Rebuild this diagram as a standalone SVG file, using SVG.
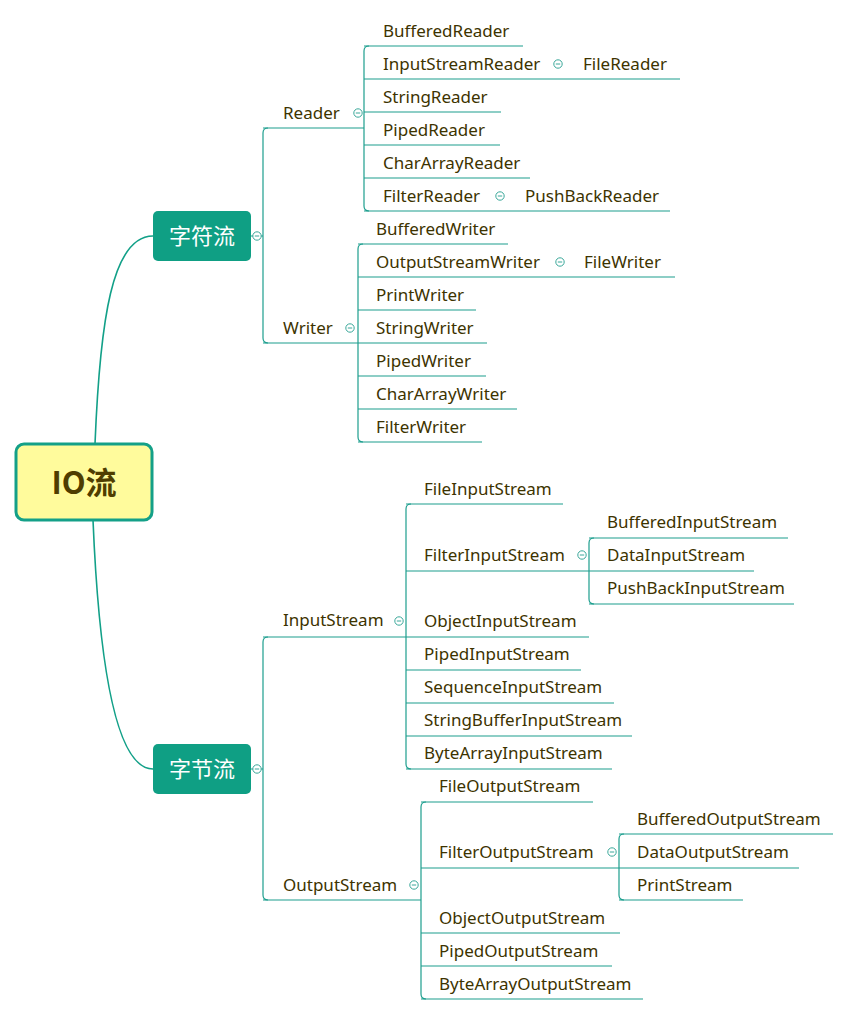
<svg xmlns="http://www.w3.org/2000/svg" width="849" height="1015" viewBox="0 0 849 1015">
<style>
.ln{fill:none;stroke:#1d9e8e;stroke-width:1.2}
.cv{fill:none;stroke:#12a088;stroke-width:1.6}
.t{font-family:"Noto Sans","Open Sans",sans-serif;font-size:17px;fill:#3d3300}
.cn{font-family:"Noto Sans CJK SC",sans-serif;font-size:22px;fill:#ffffff}
.l1{fill:#0f9f84}
.cc{fill:#ffffff;stroke:#3aa89a;stroke-width:1}
.cm{stroke:#3aa89a;stroke-width:1}
</style>
<defs>
<g id="col"><circle class="cc" r="4.2"/><line class="cm" x1="-2.2" y1="0" x2="2.2" y2="0"/></g>
</defs>
<rect width="849" height="1015" fill="#ffffff"/>
<g id="connectors">
<path class="cv" d="M95 444 C100 320 112 236 153 236"/>
<path class="cv" d="M93 520 C98 640 112 769 153 769"/>
<path class="ln" d="M250 236 H263 M250 769 H263"/>
<path class="ln" d="M268 128 Q263 128 263 133 V338 Q263 343 268 343"/>
<path class="ln" d="M268 637 Q263 637 263 642 V895 Q263 900 268 900"/>
<path class="ln" d="M263 128 H364 M263 343 H358 M263 637 H406 M263 900 H421"/>
<path class="ln" d="M369 46 Q364 46 364 51 V206 Q364 211 369 211"/>
<path class="ln" d="M364 46 H523 M364 79 H680 M364 112 H501 M364 145 H500 M364 178 H530 M364 211 H670"/>
<path class="ln" d="M363 244 Q358 244 358 249 V437 Q358 442 363 442"/>
<path class="ln" d="M358 244 H508 M358 277 H675 M358 310 H476 M358 343 H487 M358 376 H486 M358 409 H517 M358 442 H482"/>
<path class="ln" d="M411 504 Q406 504 406 509 V764 Q406 769 411 769"/>
<path class="ln" d="M406 504 H563 M406 571 H754 M406 637 H589 M406 670 H581 M406 703 H614 M406 736 H632 M406 769 H612"/>
<path class="ln" d="M594 538 Q589 538 589 543 V599 Q589 604 594 604"/>
<path class="ln" d="M589 538 H788 M589 604 H794"/>
<path class="ln" d="M426 802 Q421 802 421 807 V994 Q421 999 426 999"/>
<path class="ln" d="M421 802 H593 M421 868 H799 M421 933 H620 M421 966 H612 M421 999 H643"/>
<path class="ln" d="M624 834 Q619 834 619 839 V895 Q619 900 624 900"/>
<path class="ln" d="M619 834 H833 M619 900 H743"/>
</g>
<g id="root">
<rect x="16" y="444" width="136" height="76" rx="8" fill="#fffb9c" stroke="#14a088" stroke-width="3"/>
<text x="84" y="494" text-anchor="middle" font-family="Noto Sans CJK SC,sans-serif" font-size="31" font-weight="bold" fill="#4f3d00">IO流</text>
</g>
<g id="n-char">
<rect class="l1" x="153" y="211" width="98" height="50" rx="5"/>
<text class="cn" x="202" y="244" text-anchor="middle">字符流</text>
<use href="#col" x="257" y="236"/>
</g>
<g id="n-byte">
<rect class="l1" x="153" y="744" width="98" height="50" rx="5"/>
<text class="cn" x="202" y="777" text-anchor="middle">字节流</text>
<use href="#col" x="257" y="769"/>
</g>
<g id="n-reader"><text class="t" x="283" y="119">Reader</text><use href="#col" x="358" y="113"/></g>
<g id="n-writer"><text class="t" x="283" y="334">Writer</text><use href="#col" x="350" y="328"/></g>
<g id="n-inputstream"><text class="t" x="283" y="626">InputStream</text><use href="#col" x="399" y="621"/></g>
<g id="n-outputstream"><text class="t" x="283" y="891">OutputStream</text><use href="#col" x="414" y="885"/></g>
<g id="n-bufferedreader"><text class="t" x="383" y="37">BufferedReader</text></g>
<g id="n-inputstreamreader"><text class="t" x="383" y="70">InputStreamReader</text><use href="#col" x="558" y="64"/></g>
<g id="n-filereader"><text class="t" x="583" y="70">FileReader</text></g>
<g id="n-stringreader"><text class="t" x="383" y="103">StringReader</text></g>
<g id="n-pipedreader"><text class="t" x="383" y="136">PipedReader</text></g>
<g id="n-chararrayreader"><text class="t" x="383" y="169">CharArrayReader</text></g>
<g id="n-filterreader"><text class="t" x="383" y="202">FilterReader</text><use href="#col" x="500" y="196"/></g>
<g id="n-pushbackreader"><text class="t" x="525" y="202">PushBackReader</text></g>
<g id="n-bufferedwriter"><text class="t" x="376" y="235">BufferedWriter</text></g>
<g id="n-outputstreamwriter"><text class="t" x="376" y="268">OutputStreamWriter</text><use href="#col" x="560" y="262"/></g>
<g id="n-filewriter"><text class="t" x="584" y="268">FileWriter</text></g>
<g id="n-printwriter"><text class="t" x="376" y="301">PrintWriter</text></g>
<g id="n-stringwriter"><text class="t" x="376" y="334">StringWriter</text></g>
<g id="n-pipedwriter"><text class="t" x="376" y="367">PipedWriter</text></g>
<g id="n-chararraywriter"><text class="t" x="376" y="400">CharArrayWriter</text></g>
<g id="n-filterwriter"><text class="t" x="376" y="433">FilterWriter</text></g>
<g id="n-fileinputstream"><text class="t" x="424" y="495">FileInputStream</text></g>
<g id="n-filterinputstream"><text class="t" x="424" y="561">FilterInputStream</text><use href="#col" x="582" y="555"/></g>
<g id="n-bufferedinputstream"><text class="t" x="607" y="528">BufferedInputStream</text></g>
<g id="n-datainputstream"><text class="t" x="607" y="561">DataInputStream</text></g>
<g id="n-pushbackinputstream"><text class="t" x="607" y="594">PushBackInputStream</text></g>
<g id="n-objectinputstream"><text class="t" x="424" y="627">ObjectInputStream</text></g>
<g id="n-pipedinputstream"><text class="t" x="424" y="660">PipedInputStream</text></g>
<g id="n-sequenceinputstream"><text class="t" x="424" y="693">SequenceInputStream</text></g>
<g id="n-stringbufferinputstream"><text class="t" x="424" y="726">StringBufferInputStream</text></g>
<g id="n-bytearrayinputstream"><text class="t" x="424" y="759">ByteArrayInputStream</text></g>
<g id="n-fileoutputstream"><text class="t" x="439" y="792">FileOutputStream</text></g>
<g id="n-filteroutputstream"><text class="t" x="439" y="858">FilterOutputStream</text><use href="#col" x="612" y="852"/></g>
<g id="n-bufferedoutputstream"><text class="t" x="637" y="825">BufferedOutputStream</text></g>
<g id="n-dataoutputstream"><text class="t" x="637" y="858">DataOutputStream</text></g>
<g id="n-printstream"><text class="t" x="637" y="891">PrintStream</text></g>
<g id="n-objectoutputstream"><text class="t" x="439" y="924">ObjectOutputStream</text></g>
<g id="n-pipedoutputstream"><text class="t" x="439" y="957">PipedOutputStream</text></g>
<g id="n-bytearrayoutputstream"><text class="t" x="439" y="990">ByteArrayOutputStream</text></g>
</svg>
